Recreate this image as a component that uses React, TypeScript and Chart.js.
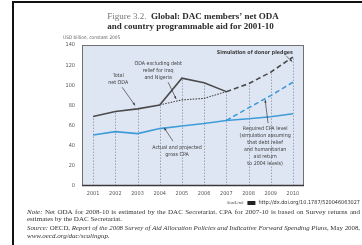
import React, { useEffect, useRef } from "react";
import { Chart, registerables } from "chart.js";
Chart.register(...registerables);

const years = ["2001", "2002", "2003", "2004", "2005", "2006", "2007", "2008", "2009", "2010"];
const totalNetOda = [69, 74, 76.6, 80.5, 107, 102.5, 93.7, null, null, null];
const simulatedOda = [null, null, null, null, null, null, 93.7, 101.5, 113, 128];
const odaExclDebtRelief = [null, null, null, 80.5, 85.5, 87, 93.7, null, null, null];
const grossCpa = [50.6, 54, 52, 57, 59.5, 62, 65, 66.7, 68.7, 71.7];
const requiredCpa = [null, null, null, null, null, null, 65, 77.6, 89.7, 103];
const yStep = 20;
const yMax = 140;

const SANS = '"Liberation Sans Narrow", "DejaVu Sans Condensed", "Liberation Sans", sans-serif';
const SERIF = '"Liberation Serif", "DejaVu Serif", serif';

type Note = { lines: string[]; x: number; y: number; align: CanvasTextAlign; bold?: boolean };
const annotations: Note[] = [
  { lines: ["Total", "net ODA"], x: 1.13, y: 110, align: "center" },
  { lines: ["ODA excluding debt", "relief for Iraq", "and Nigeria"], x: 2.93, y: 122, align: "center" },
  { lines: ["Simulation of donor pledges"], x: 9.0, y: 132, align: "right", bold: true },
  { lines: ["Actual and projected", "gross CPA"], x: 3.78, y: 38, align: "center" },
  {
    lines: ["Required CPA level", "(simulation assuming", "that debt relief", "and humanitarian", "aid return", "to 2004 levels)"],
    x: 7.75, y: 57, align: "center",
  },
];
const arrows = [
  { from: [1.31, 98], to: [1.89, 80] },
  { from: [3.38, 103], to: [3.74, 86.5] },
  { from: [8.7, 129], to: [8.97, 123.5] },
  { from: [3.6, 44.5], to: [3.2, 57.8] },
  { from: [7.88, 62.5], to: [7.75, 85.5] },
];

type Run = { t: string; italic?: boolean; join?: boolean };
function drawRuns(ctx: CanvasRenderingContext2D, runs: Run[], x: number, y: number, size: number, width?: number) {
  const build = (sz: number) => {
    const words: { t: string; f: string; w: number; join: boolean }[] = [];
    runs.forEach((r) => {
      const f = `${r.italic ? "italic " : ""}${sz}px ${SERIF}`;
      ctx.font = f;
      r.t.split(" ").filter(Boolean).forEach((t, i) => {
        words.push({ t, f, w: ctx.measureText(t).width, join: !!r.join && i === 0 });
      });
    });
    ctx.font = `${sz}px ${SERIF}`;
    const sp = ctx.measureText(" ").width;
    const total = words.reduce((s, w) => s + w.w, 0);
    const gaps = words.filter((w, i) => i > 0 && !w.join).length;
    return { words, sp, total, gaps };
  };
  let sz = size;
  let b = build(sz);
  if (width) {
    const natural = b.total + b.gaps * b.sp;
    if (natural > width) {
      sz = size * width / natural;
      b = build(sz);
    }
  }
  const gap = width ? (width - b.total) / b.gaps : b.sp;
  let cx = x;
  b.words.forEach((w, i) => {
    if (i > 0 && !w.join) cx += gap;
    ctx.font = w.f;
    ctx.fillText(w.t, cx, y);
    cx += w.w;
  });
}

const decorPlugin = {
  id: "decor",
  beforeDraw(chart: any) {
    const { ctx, chartArea: a } = chart;
    ctx.save();
    ctx.fillStyle = "#ffffff";
    ctx.fillRect(0, 0, chart.width, chart.height);
    ctx.fillStyle = "#dfe6f3";
    ctx.fillRect(a.left, a.top, a.right - a.left, a.bottom - a.top);
    ctx.restore();
  },
  beforeDatasetsDraw(chart: any) {
    const { ctx, chartArea: a, scales } = chart;
    const xs = scales.x, ys = scales.y;
    ctx.save();
    ctx.strokeStyle = "#8d93a3";
    ctx.lineWidth = 0.8;
    ctx.setLineDash([1.5, 1.5]);
    years.forEach((_, i) => {
      const vals = chart.data.datasets.map((d: any) => d.data[i]).filter((v: any) => v != null);
      const top = Math.max(...vals);
      const px = Math.round(xs.getPixelForValue(i)) + 0.5;
      ctx.beginPath();
      ctx.moveTo(px, ys.getPixelForValue(0));
      ctx.lineTo(px, ys.getPixelForValue(top));
      ctx.stroke();
    });
    ctx.setLineDash([]);
    ctx.strokeStyle = "#707070";
    ctx.lineWidth = 1;
    ctx.strokeRect(a.left + 0.5, a.top + 0.5, a.right - a.left - 1, a.bottom - a.top - 1);
    ctx.strokeStyle = "#3a3a3a";
    ctx.lineWidth = 1.5;
    ctx.beginPath();
    ctx.moveTo(a.left, a.bottom - 0.5);
    ctx.lineTo(a.right, a.bottom - 0.5);
    ctx.stroke();
    ctx.restore();
  },
  afterDatasetsDraw(chart: any) {
    const { ctx, scales } = chart;
    const xs = scales.x, ys = scales.y;
    ctx.save();
    ctx.fillStyle = "#3c3c3c";
    ctx.textBaseline = "middle";
    annotations.forEach((n) => {
      ctx.font = `${n.bold ? "bold " : ""}5.3px ${SANS}`;
      ctx.textAlign = n.align;
      const px = xs.getPixelForValue(n.x);
      const py = ys.getPixelForValue(n.y);
      n.lines.forEach((l, i) => ctx.fillText(l, px, py + i * 7.1));
    });
    ctx.strokeStyle = "#3c3c3c";
    ctx.lineWidth = 0.7;
    arrows.forEach((ar) => {
      const x1 = xs.getPixelForValue(ar.from[0]), y1 = ys.getPixelForValue(ar.from[1]);
      const x2 = xs.getPixelForValue(ar.to[0]), y2 = ys.getPixelForValue(ar.to[1]);
      ctx.beginPath();
      ctx.moveTo(x1, y1);
      ctx.lineTo(x2, y2);
      ctx.stroke();
      const ang = Math.atan2(y2 - y1, x2 - x1);
      ctx.beginPath();
      ctx.moveTo(x2, y2);
      ctx.lineTo(x2 - 3 * Math.cos(ang - 0.4), y2 - 3 * Math.sin(ang - 0.4));
      ctx.lineTo(x2 - 3 * Math.cos(ang + 0.4), y2 - 3 * Math.sin(ang + 0.4));
      ctx.closePath();
      ctx.fill();
    });
    ctx.restore();
  },
  afterDraw(chart: any) {
    const { ctx } = chart;
    ctx.save();
    // frame
    ctx.fillStyle = "#111";
    ctx.fillRect(12, 1, 2, chart.height);
    ctx.fillRect(12, 1, chart.width - 12, 2);
    // title
    ctx.textBaseline = "middle";
    ctx.textAlign = "left";
    const f1 = `9px ${SERIF}`;
    const f2 = `bold 9px ${SERIF}`;
    ctx.font = f1;
    const p1 = "Figure 3.2.  ";
    const w1 = ctx.measureText(p1).width;
    ctx.font = f2;
    const p2 = "Global: DAC members’ net ODA";
    const w2 = ctx.measureText(p2).width;
    const sx = 193 - (w1 + w2) / 2;
    ctx.font = f1;
    ctx.fillStyle = "#777";
    ctx.fillText(p1, sx, 17);
    ctx.font = f2;
    ctx.fillStyle = "#2a2a2a";
    ctx.fillText(p2, sx + w1, 17);
    ctx.textAlign = "center";
    ctx.fillText("and country programmable aid for 2001-10", 190.5, 27);
    // unit label
    ctx.textAlign = "left";
    ctx.font = `4.8px ${SANS}`;
    ctx.fillStyle = "#666";
    ctx.fillText("USD billion, constant 2005", 63, 38);
    // statlink
    ctx.textAlign = "right";
    ctx.font = `5.5px ${SANS}`;
    ctx.fillStyle = "#333";
    const url = "http://dx.doi.org/10.1787/520046063027";
    ctx.fillText(url, 360, 203);
    const uw = ctx.measureText(url).width;
    ctx.fillStyle = "#222";
    ctx.fillRect(360 - uw - 11, 201, 8, 4);
    ctx.font = `italic 5px ${SERIF}`;
    ctx.fillStyle = "#555";
    ctx.fillText("StatLink", 360 - uw - 15, 203);
    // notes
    ctx.textAlign = "left";
    ctx.fillStyle = "#333";
    const ns = 7;
    drawRuns(ctx, [
      { t: "Note:", italic: true },
      { t: "Net ODA for 2008-10 is estimated by the DAC Secretariat. CPA for 2007-10 is based on Survey returns and" },
    ], 27, 212, ns, 333);
    drawRuns(ctx, [{ t: "estimates by the DAC Secretariat." }], 27, 219.5, ns);
    drawRuns(ctx, [
      { t: "Source:", italic: true },
      { t: "OECD," },
      { t: "Report of the 2008 Survey of Aid Allocation Policies and Indicative Forward Spending Plans", italic: true },
      { t: ", May 2008,", join: true },
    ], 27, 228.5, ns, 333);
    drawRuns(ctx, [{ t: "www.oecd.org/dac/scalingup.", italic: true }], 27, 236, ns);
    ctx.restore();
  },
};

export default function App() {
  const ref = useRef<HTMLCanvasElement>(null);
  useEffect(() => {
    if (!ref.current) return;
    const tickFont = { family: SANS, size: 5.5 };
    const chart = new Chart(ref.current, {
      type: "line",
      data: {
        labels: years,
        datasets: [
          { label: "Total net ODA", data: totalNetOda, borderColor: "#4a4a4a", borderWidth: 1.6, pointRadius: 0, tension: 0 },
          { label: "Simulation of donor pledges", data: simulatedOda, borderColor: "#4a4a4a", borderWidth: 1.6, borderDash: [5, 3], pointRadius: 0 },
          { label: "ODA excluding debt relief for Iraq and Nigeria", data: odaExclDebtRelief, borderColor: "#4a4a4a", borderWidth: 1.1, borderDash: [1.6, 1.2], pointRadius: 0 },
          { label: "Actual and projected gross CPA", data: grossCpa, borderColor: "#3f9bd8", borderWidth: 1.6, pointRadius: 0 },
          { label: "Required CPA level", data: requiredCpa, borderColor: "#3f9bd8", borderWidth: 1.6, borderDash: [5, 3], pointRadius: 0 },
        ] as any,
      },
      options: {
        animation: false,
        responsive: false,
        devicePixelRatio: 1,
        spanGaps: false,
        layout: { padding: { left: 52, top: 45, right: 58, bottom: 45 } },
        plugins: { legend: { display: false }, tooltip: { enabled: false }, title: { display: false } },
        scales: {
          x: {
            type: "category",
            offset: true,
            grid: { display: false, drawTicks: false },
            border: { display: false },
            ticks: { font: tickFont, color: "#555", padding: 4, maxRotation: 0, autoSkip: false },
            afterFit: (s: any) => { s.height = 14; },
          },
          y: {
            min: 0,
            max: yMax,
            grid: { display: false, drawTicks: false },
            border: { display: false },
            ticks: { font: tickFont, color: "#555", padding: 7, stepSize: yStep },
            afterFit: (s: any) => { s.width = 30; },
          },
        },
      } as any,
      plugins: [decorPlugin],
    });
    return () => chart.destroy();
  }, []);
  return (
    <div style={{ position: "fixed", left: 0, top: 0, width: 362, height: 245, background: "#fff" }}>
      <canvas ref={ref} width={362} height={245} style={{ display: "block", width: 362, height: 245 }} />
    </div>
  );
}
